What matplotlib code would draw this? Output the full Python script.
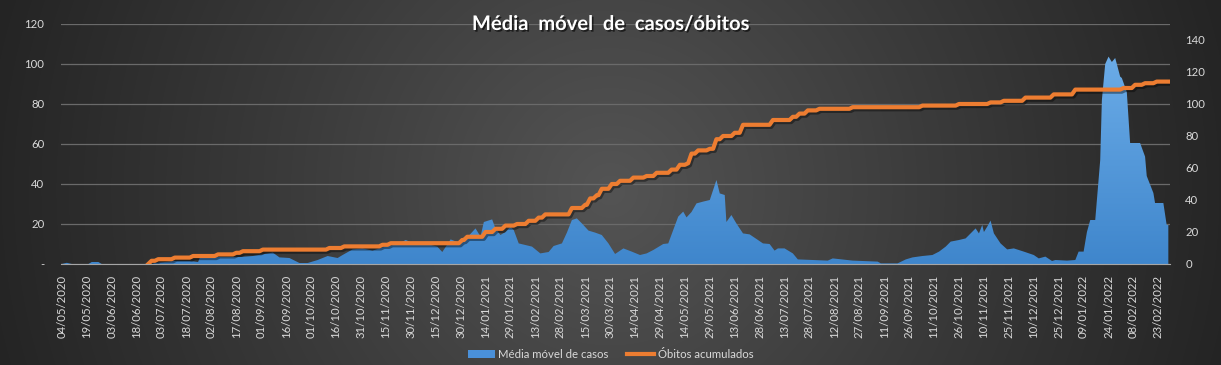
import numpy as np
import pandas as pd
import matplotlib
matplotlib.use("Agg")
import matplotlib.pyplot as plt
import matplotlib.dates as mdates
import matplotlib.patheffects as pe
from matplotlib.colors import LinearSegmentedColormap
from matplotlib.patches import Patch
from matplotlib.lines import Line2D

inicio = pd.Timestamp("2020-05-04")

# Média móvel de casos (dias desde 04/05/2020 -> valor, eixo esquerdo)
dias_casos = [0, 3, 6, 16, 18, 22, 24, 54, 56, 68, 77, 82, 83, 95, 107, 115, 122, 127,
              131, 137, 143, 148, 154, 160, 166, 169, 175, 181, 187, 193, 202, 207, 214,
              220, 226, 229, 234, 238, 244, 249, 252, 254, 259, 261, 264, 267, 270, 272,
              275, 279, 283, 288, 293, 296, 301, 304, 307, 310, 313, 317, 321, 325, 329,
              333, 338, 343, 348, 352, 356, 362, 365, 368, 371, 374, 376, 379, 382, 386,
              390, 392, 394, 396, 399, 400, 403, 406, 410, 414, 419, 422, 426, 429, 431,
              435, 440, 443, 461, 464, 476, 491, 493, 503, 508, 512, 518, 524, 528, 532,
              535, 540, 544, 547, 550, 552, 554, 555, 557, 559, 561, 565, 569, 573, 579,
              585, 588, 592, 596, 598, 605, 610, 612, 615, 617, 619, 622, 625, 626, 628,
              630, 632, 634, 635, 637, 638, 641, 643, 649, 652, 653, 657, 658, 663, 665, 666]
casos = [0, 0.6, 0, 0, 1, 1, 0, 0, 0.5, 1.5, 1.5, 1.0, 3, 3.5, 3.5, 4, 5, 5.7,
         3.3, 3, 0.5, 0.5, 2, 4, 3, 4.5, 7.3, 7.8, 6.7, 8.3, 10, 12, 9.5,
         10, 8.7, 6, 12.3, 11, 13.3, 17.8, 13.7, 21, 22.3, 17.8, 14.5, 16, 18.7, 17,
         10.3, 9.5, 8.7, 5.3, 6, 9, 10.3, 15.7, 22, 22.8, 20.3, 16.7, 15.7, 14.5, 10.3,
         5, 7.8, 6.2, 4.5, 5.3, 7, 10, 10.3, 17, 23.7, 26.2, 23.3, 26, 30.3, 31.2,
         32, 37, 42, 35.3, 34.5, 21, 24.5, 20.3, 15.3, 14.8, 12, 10.3, 10, 6.7, 7.8,
         7.8, 5.3, 2.3, 1.7, 2.8, 1.7, 1.2, 0.3, 0.3, 2.3, 3.3, 4, 4.5, 6.2, 8.7,
         11.2, 12, 12.8, 15.3, 17.8, 15.3, 19.5, 16, 18.7, 21.7, 15.3, 10.3, 7.3, 7.8, 6.2,
         4.5, 2.8, 3.7, 1.5, 2, 1.7, 2, 6.2, 6.2, 16, 22, 22, 52, 82, 100,
         103.7, 101, 103, 100, 93.7, 93, 86, 60.5, 60.5, 53.7, 44, 35.5, 30.5, 30.5, 19.5, 19.5]

# Óbitos acumulados (eixo direito): dia em que o total muda e novo total
dias_obitos = [52, 54, 58, 68, 79, 94, 105, 109, 121, 161, 170, 193, 198, 241, 244, 255,
               261, 267, 274, 281, 287, 291, 307, 315, 318, 322, 325, 331, 336, 344, 352,
               358, 367, 372, 377, 379, 383, 390, 394, 398, 405, 410, 428, 440, 444, 449,
               456, 476, 518, 540, 559, 567, 580, 597, 610, 639, 646, 652, 659, 666]
obitos = [0, 2, 3, 4, 5, 6, 7, 8, 9, 10, 11, 12, 13, 15, 17, 20,
          22, 24, 25, 27, 29, 31, 35, 37, 41, 43, 47, 50, 52, 54, 55,
          57, 59, 62, 63, 69, 71, 72, 78, 80, 82, 87, 90, 92, 94, 96,
          97, 98, 99, 100, 101, 102, 104, 106, 109, 110, 112, 113, 114, 114]

datas_casos = inicio + pd.to_timedelta(dias_casos, unit="D")
ticks = pd.date_range(inicio, "2022-02-23", freq="15D")

# linha diária: o total fica igual até a véspera da mudança seguinte
lx, ly = [dias_obitos[0]], [obitos[0]]
for i in range(1, len(dias_obitos)):
    if dias_obitos[i] - 2 > lx[-1]:
        lx.append(dias_obitos[i] - 2)
        ly.append(obitos[i - 1])
    lx.append(dias_obitos[i])
    ly.append(obitos[i])
datas_obitos = inicio + pd.to_timedelta(lx, unit="D")

txt = "#d9d9d9"
fig = plt.figure(figsize=(12.21, 3.65), dpi=100)

# fundo com gradiente radial
bg = fig.add_axes([0, 0, 1, 1], zorder=-10)
yy, xx = np.mgrid[0:365, 0:1221]
r = np.clip(np.hypot(xx - 610, yy - 190) / 650, 0, 1)
cmap_bg = LinearSegmentedColormap.from_list("bg", ["#545454", "#3b3b3b", "#242424"])
bg.imshow(r, cmap=cmap_bg, aspect="auto", extent=[0, 1, 0, 1], origin="upper")
bg.axis("off")

ax = fig.add_axes([61 / 1221, 1 - 264 / 365, (1170 - 61) / 1221, 240 / 365])
ax.patch.set_visible(False)
ax2 = ax.twinx()
ax2.patch.set_visible(False)

x0 = inicio - pd.Timedelta(hours=12)
x1 = inicio + pd.Timedelta(days=667)

# área azul com gradiente
poly = ax.fill_between(datas_casos, casos, 0, color="none", lw=0)
cmap_area = LinearSegmentedColormap.from_list("area", ["#3f86cc", "#72b2ec"])
grad = np.linspace(0, 1, 256).reshape(-1, 1)
im = ax.imshow(grad, cmap=cmap_area, aspect="auto", origin="lower",
               extent=[mdates.date2num(x0), mdates.date2num(x1), 0, 120], zorder=2)
im.set_clip_path(poly.get_paths()[0], transform=ax.transData)
ax.set_xlim(x0, x1)
ax.set_ylim(0, 120)
ax2.set_ylim(0, 150)

ax2.plot(datas_obitos, ly, color="#ed7d31", lw=3, solid_joinstyle="round",
         path_effects=[pe.SimpleLineShadow(offset=(1.2, -1.5), shadow_color="black", alpha=0.4),
                       pe.Normal()])

ax.set_yticks(range(0, 121, 20))
ax.set_yticklabels(["-"] + [str(v) for v in range(20, 121, 20)])
ax2.set_yticks(range(0, 141, 20))
ax.grid(axis="y", color="#6a6a6a", lw=0.9)
ax.set_axisbelow(True)

ax.set_xticks(ticks)
ax.set_xticklabels([d.strftime("%d/%m/%Y") for d in ticks], rotation=90)

for a in (ax, ax2):
    for s in a.spines.values():
        s.set_visible(False)
    a.tick_params(length=0, colors=txt, labelsize=8.2, labelfontfamily="Lato")
ax.spines["bottom"].set_visible(True)
ax.spines["bottom"].set_color("#a6a6a6")
ax.tick_params(axis="y", pad=12)
ax2.tick_params(axis="y", pad=11)
ax.tick_params(axis="x", pad=8)

fig.text(0.5, 1 - 24 / 365, "Média  móvel  de  casos/óbitos", ha="center", va="center",
         color="white", fontsize=14.5, fontweight="bold", family="Lato",
         path_effects=[pe.withSimplePatchShadow(offset=(1.2, -1.2), shadow_rgbFace="black", alpha=0.6)])

handles = [Patch(facecolor="#4a90d9", edgecolor="none"),
           Line2D([0], [0], color="#ed7d31", lw=3)]
leg = fig.legend(handles, ["Média móvel de casos", "Óbitos acumulados"], loc="center",
                 bbox_to_anchor=(0.5, 1 - 354 / 365), ncol=2, frameon=False,
                 prop={"family": "Lato", "size": 8.2}, handlelength=2.4, handleheight=0.7,
                 columnspacing=1.6, handletextpad=0.3)
for t in leg.get_texts():
    t.set_color(txt)

fig.savefig("out.png", dpi=100)
